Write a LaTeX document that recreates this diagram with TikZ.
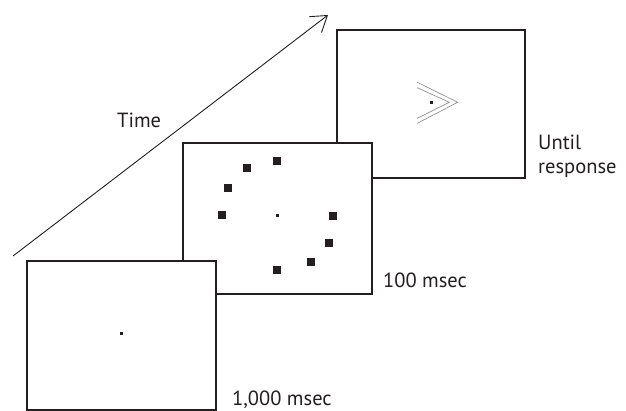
\documentclass[tikz,border=0pt]{standalone}
\usepackage{fontspec}
\setmainfont{PT Sans}
\usetikzlibrary{arrows.meta}
\definecolor{ink}{HTML}{231F20}
\tikzset{
  screen/.style={draw=ink, line width=1.8pt, fill=white, inner sep=0pt, minimum width=189pt, minimum height=149pt},
  sq/.style={fill=ink, inner sep=0pt, minimum size=8pt},
  fix/.style={fill=ink, inner sep=0pt, minimum size=3pt},
  lbl/.style={font=\fontsize{20.5}{24}\selectfont, text=ink, inner sep=0pt, anchor=base west},
  chev/.style={draw=gray!90, line width=0.65pt}
}
\begin{document}
\begin{tikzpicture}[x=1pt,y=-1pt]
\useasboundingbox (0,0) rectangle (626,411);
% time arrow
\coordinate (t0) at (13,256);
\coordinate (t1) at (328,15);
\draw[ink, line width=0.9pt, -{Straight Barb[length=15pt,width=20pt,line width=0.9pt]}] (t0) -- (t1);
\node[lbl] (time) at (117,128) {Time};
% screens, back to front
\node[screen, minimum width=188pt, minimum height=148pt] (s3) at (431,104) {};
\node[screen, minimum height=151pt] (s2) at (277.5,218.5) {};
\node[screen] (s1) at (121.5,335.5) {};
% screen 1
\node[fix] (f1) at (121.5,333.5) {};
% screen 2
\node[fix] (f2) at (277.3,216) {};
\node[sq] (d1) at (276.7,161) {};
\node[sq] (d2) at (246.7,168.3) {};
\node[sq] (d3) at (228.3,187.7) {};
\node[sq] (d4) at (221.7,215) {};
\node[sq] (d5) at (333.3,216) {};
\node[sq] (d6) at (329.3,242.7) {};
\node[sq] (d7) at (311.3,261.7) {};
\node[sq] (d8) at (277.3,270) {};
% screen 3
\node[fix] (f3) at (431,102.7) {};
\draw[chev] (417.3,82.3) -- (457.7,102.3) -- (417.3,123.3);
\draw[chev] (417.3,87.7) -- (449.3,102.3) -- (417.3,118.3);
% labels
\node[lbl] (l3a) at (538,150) {Until};
\node[lbl] (l3b) at (538,174) {response};
\node[lbl] (l2) at (383,288) {100 msec};
\node[lbl] (l1) at (232,405) {1,000 msec};
\end{tikzpicture}
\end{document}
